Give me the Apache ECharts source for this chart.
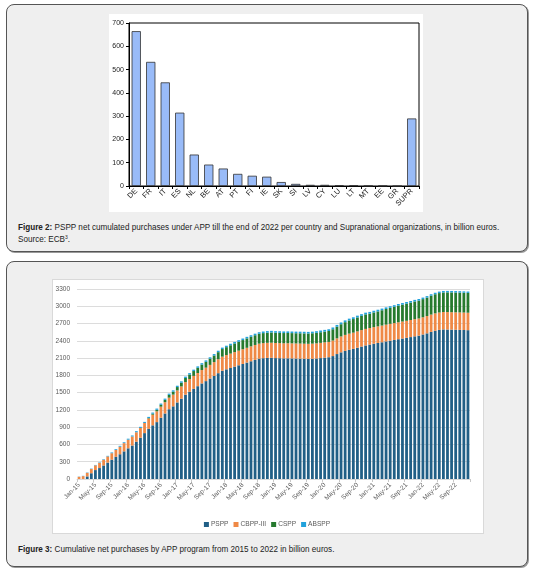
<!DOCTYPE html>
<html><head><meta charset="utf-8">
<script src="https://cdn.jsdelivr.net/npm/echarts@6/dist/echarts.min.js"></script>
<style>
html,body{margin:0;padding:0;background:#fff;width:534px;height:573px;overflow:hidden;font-family:"Liberation Sans",Arial,sans-serif;}
.panel{position:absolute;background:#efefef;border:1px solid #555;border-radius:8px;box-shadow:1px 1px 0 #999;}
.white{position:absolute;background:#fff;}
.cap{position:absolute;font-size:8.15px;line-height:12px;color:#222;white-space:nowrap;}
.cap b{font-weight:bold;}
.cap sup{font-size:5px;line-height:0;vertical-align:3px;}
#chart{position:absolute;left:0;top:0;width:534px;height:573px;}
</style></head>
<body>
<div class="panel" style="left:6px;top:4px;width:520px;height:246px;"></div>
<div class="white" style="left:109px;top:14px;width:314px;height:198px;"></div>
<div class="cap" style="left:18px;top:222px;"><b>Figure 2:</b> PSPP net cumulated purchases under APP till the end of 2022 per country and Supranational organizations, in billion euros.<br>Source: ECB<sup>3</sup>.</div>
<div class="panel" style="left:6px;top:261px;width:520px;height:304px;"></div>
<div class="white" style="left:52px;top:279px;width:430px;height:253px;border:1px solid #d9d9d9;"></div>
<div class="cap" style="left:18px;top:544px;"><b>Figure 3:</b> Cumulative net purchases by APP program from 2015 to 2022 in billion euros.</div>
<div id="chart"></div>
<script>
// ---- Figure 2 data ----
var countries = ["DE","FR","IT","ES","NL","BE","AT","PT","FI","IE","SK","SI","LV","CY","LU","LT","MT","EE","GR","SUPR"];
var countryValues = [665,533,445,315,135,92,75,52,44,40,17,9,5,5,3,3,1,1,0,290];
var fig2Ticks = [0,100,200,300,400,500,600,700];

// ---- Figure 3 data ----
var monthNames = ["Jan","Feb","Mar","Apr","May","Jun","Jul","Aug","Sep","Oct","Nov","Dec"];
var yearLabels = ["15","16","17","18","19","20","21","22"];
var pspp = [
 0,0,45,100,155,190,235,285,335,385,430,480,
 533,581,648,717,797,871,932,988,1064,1138,1212,1262,
 1330,1395,1465,1515,1565,1612,1660,1700,1745,1790,1838,1880,
 1905,1928,1952,1975,1998,2022,2045,2068,2090,2098,2103,2105,
 2100,2098,2095,2096,2094,2092,2090,2088,2086,2088,2093,2100,
 2108,2115,2135,2170,2200,2225,2245,2260,2280,2300,2320,2335,
 2350,2362,2375,2390,2403,2415,2428,2440,2452,2465,2478,2490,
 2510,2530,2555,2575,2590,2598,2596,2594,2592,2590,2588,2585];
var cbpp3 = [
 38,50,62,73,82,91,100,107,113,120,131,143,
 150,157,164,170,176,181,185,188,192,196,201,204,
 209,213,218,222,226,229,232,234,237,240,242,245,
 247,250,252,254,256,257,259,260,261,262,262,262,
 262,262,262,262,262,262,262,262,262,263,263,264,
 265,266,270,273,276,278,280,282,284,286,287,287,
 288,289,290,291,292,293,294,295,296,297,298,298,
 299,300,301,302,302,302,303,303,303,303,303,303];
var cspp = [
 0,0,0,0,0,0,0,0,0,0,0,0,
 0,0,0,0,0,7,17,26,33,41,48,51,
 58,64,71,78,84,90,95,101,107,115,123,132,
 138,145,151,155,159,163,166,169,171,174,176,178,
 178,178,178,178,178,178,179,179,179,180,182,185,
 187,190,196,202,212,221,229,236,242,247,252,250,
 255,260,266,272,278,283,290,293,298,302,307,310,
 315,320,327,332,337,340,343,344,344,344,344,344];
var abspp = [
 4,5,6,7,7,8,9,10,13,14,15,15,
 17,18,19,19,19,20,20,21,21,21,22,23,
 23,24,24,24,24,25,25,25,25,25,25,25,
 25,26,26,27,27,27,27,27,27,28,28,28,
 28,28,28,28,28,28,28,28,28,28,29,30,
 30,30,31,31,31,31,31,31,31,30,30,30,
 29,29,29,28,28,28,28,28,28,28,28,28,
 27,27,26,26,26,26,25,25,25,25,24,24];
var fig3Ticks = [0,300,600,900,1200,1500,1800,2100,2400,2700,3000,3300];
var seriesNames = ["PSPP","CBPP-III","CSPP","ABSPP"];
var seriesColors = ["#215f86","#ef8946","#267a2e","#22a2dc"];

var monthCats = [];
yearLabels.forEach(function(y){ monthNames.forEach(function(m){ monthCats.push(m + "-" + y); }); });

var chart = echarts.init(document.getElementById('chart'), null, {renderer:'canvas'});
var f3 = [pspp, cbpp3, cspp, abspp];
var series = [{
  name:'fig2', type:'bar', xAxisIndex:0, yAxisIndex:0, data:countryValues,
  barWidth:'64%', itemStyle:{color:'#99bbf8', borderColor:'#333', borderWidth:0.8}, silent:true
}];
seriesNames.forEach(function(n,i){
  series.push({name:n, type:'bar', stack:'app', xAxisIndex:1, yAxisIndex:1, data:f3[i],
    barWidth:'68%', itemStyle:{color:seriesColors[i]}, silent:true});
});
chart.setOption({
  animation:false,
  textStyle:{fontFamily:'Liberation Sans'},
  grid:[
    {left:129, top:23, width:290, height:163, show:true, borderColor:'#000', borderWidth:1, backgroundColor:'transparent'},
    {left:77, top:289, width:393, height:190}
  ],
  legend:{data:seriesNames, left:'center', top:516, itemWidth:5, itemHeight:5, itemGap:5, icon:'rect',
    textStyle:{fontSize:6.6, color:'#595959', padding:[0,0,0,-3]}},
  xAxis:[
    {type:'category', gridIndex:0, data:countries,
      axisLine:{lineStyle:{color:'#000', width:1}},
      axisTick:{show:true, length:3, lineStyle:{color:'#000'}},
      axisLabel:{interval:0, rotate:45, fontSize:7.5, color:'#222', margin:4}},
    {type:'category', gridIndex:1, data:monthCats,
      axisLine:{lineStyle:{color:'#d9d9d9', width:1}},
      axisTick:{show:true, interval:3, length:3, lineStyle:{color:'#c8c8c8'}},
      axisLabel:{interval:3, rotate:45, fontSize:6.5, color:'#595959', margin:5}}
  ],
  yAxis:[
    {type:'value', gridIndex:0, min:fig2Ticks[0], max:fig2Ticks[fig2Ticks.length-1], interval:100,
      axisLine:{show:true, lineStyle:{color:'#000'}},
      axisTick:{show:true, length:3, lineStyle:{color:'#000'}},
      splitLine:{show:false},
      axisLabel:{fontSize:7, color:'#222', margin:5}},
    {type:'value', gridIndex:1, min:fig3Ticks[0], max:fig3Ticks[fig3Ticks.length-1], interval:300,
      axisLine:{show:false}, axisTick:{show:false},
      splitLine:{lineStyle:{color:'#dcdcdc', width:1}},
      axisLabel:{fontSize:6.5, color:'#595959', margin:7, formatter:function(v){return String(v);}}}
  ],
  series:series
});
</script>
</body></html>
